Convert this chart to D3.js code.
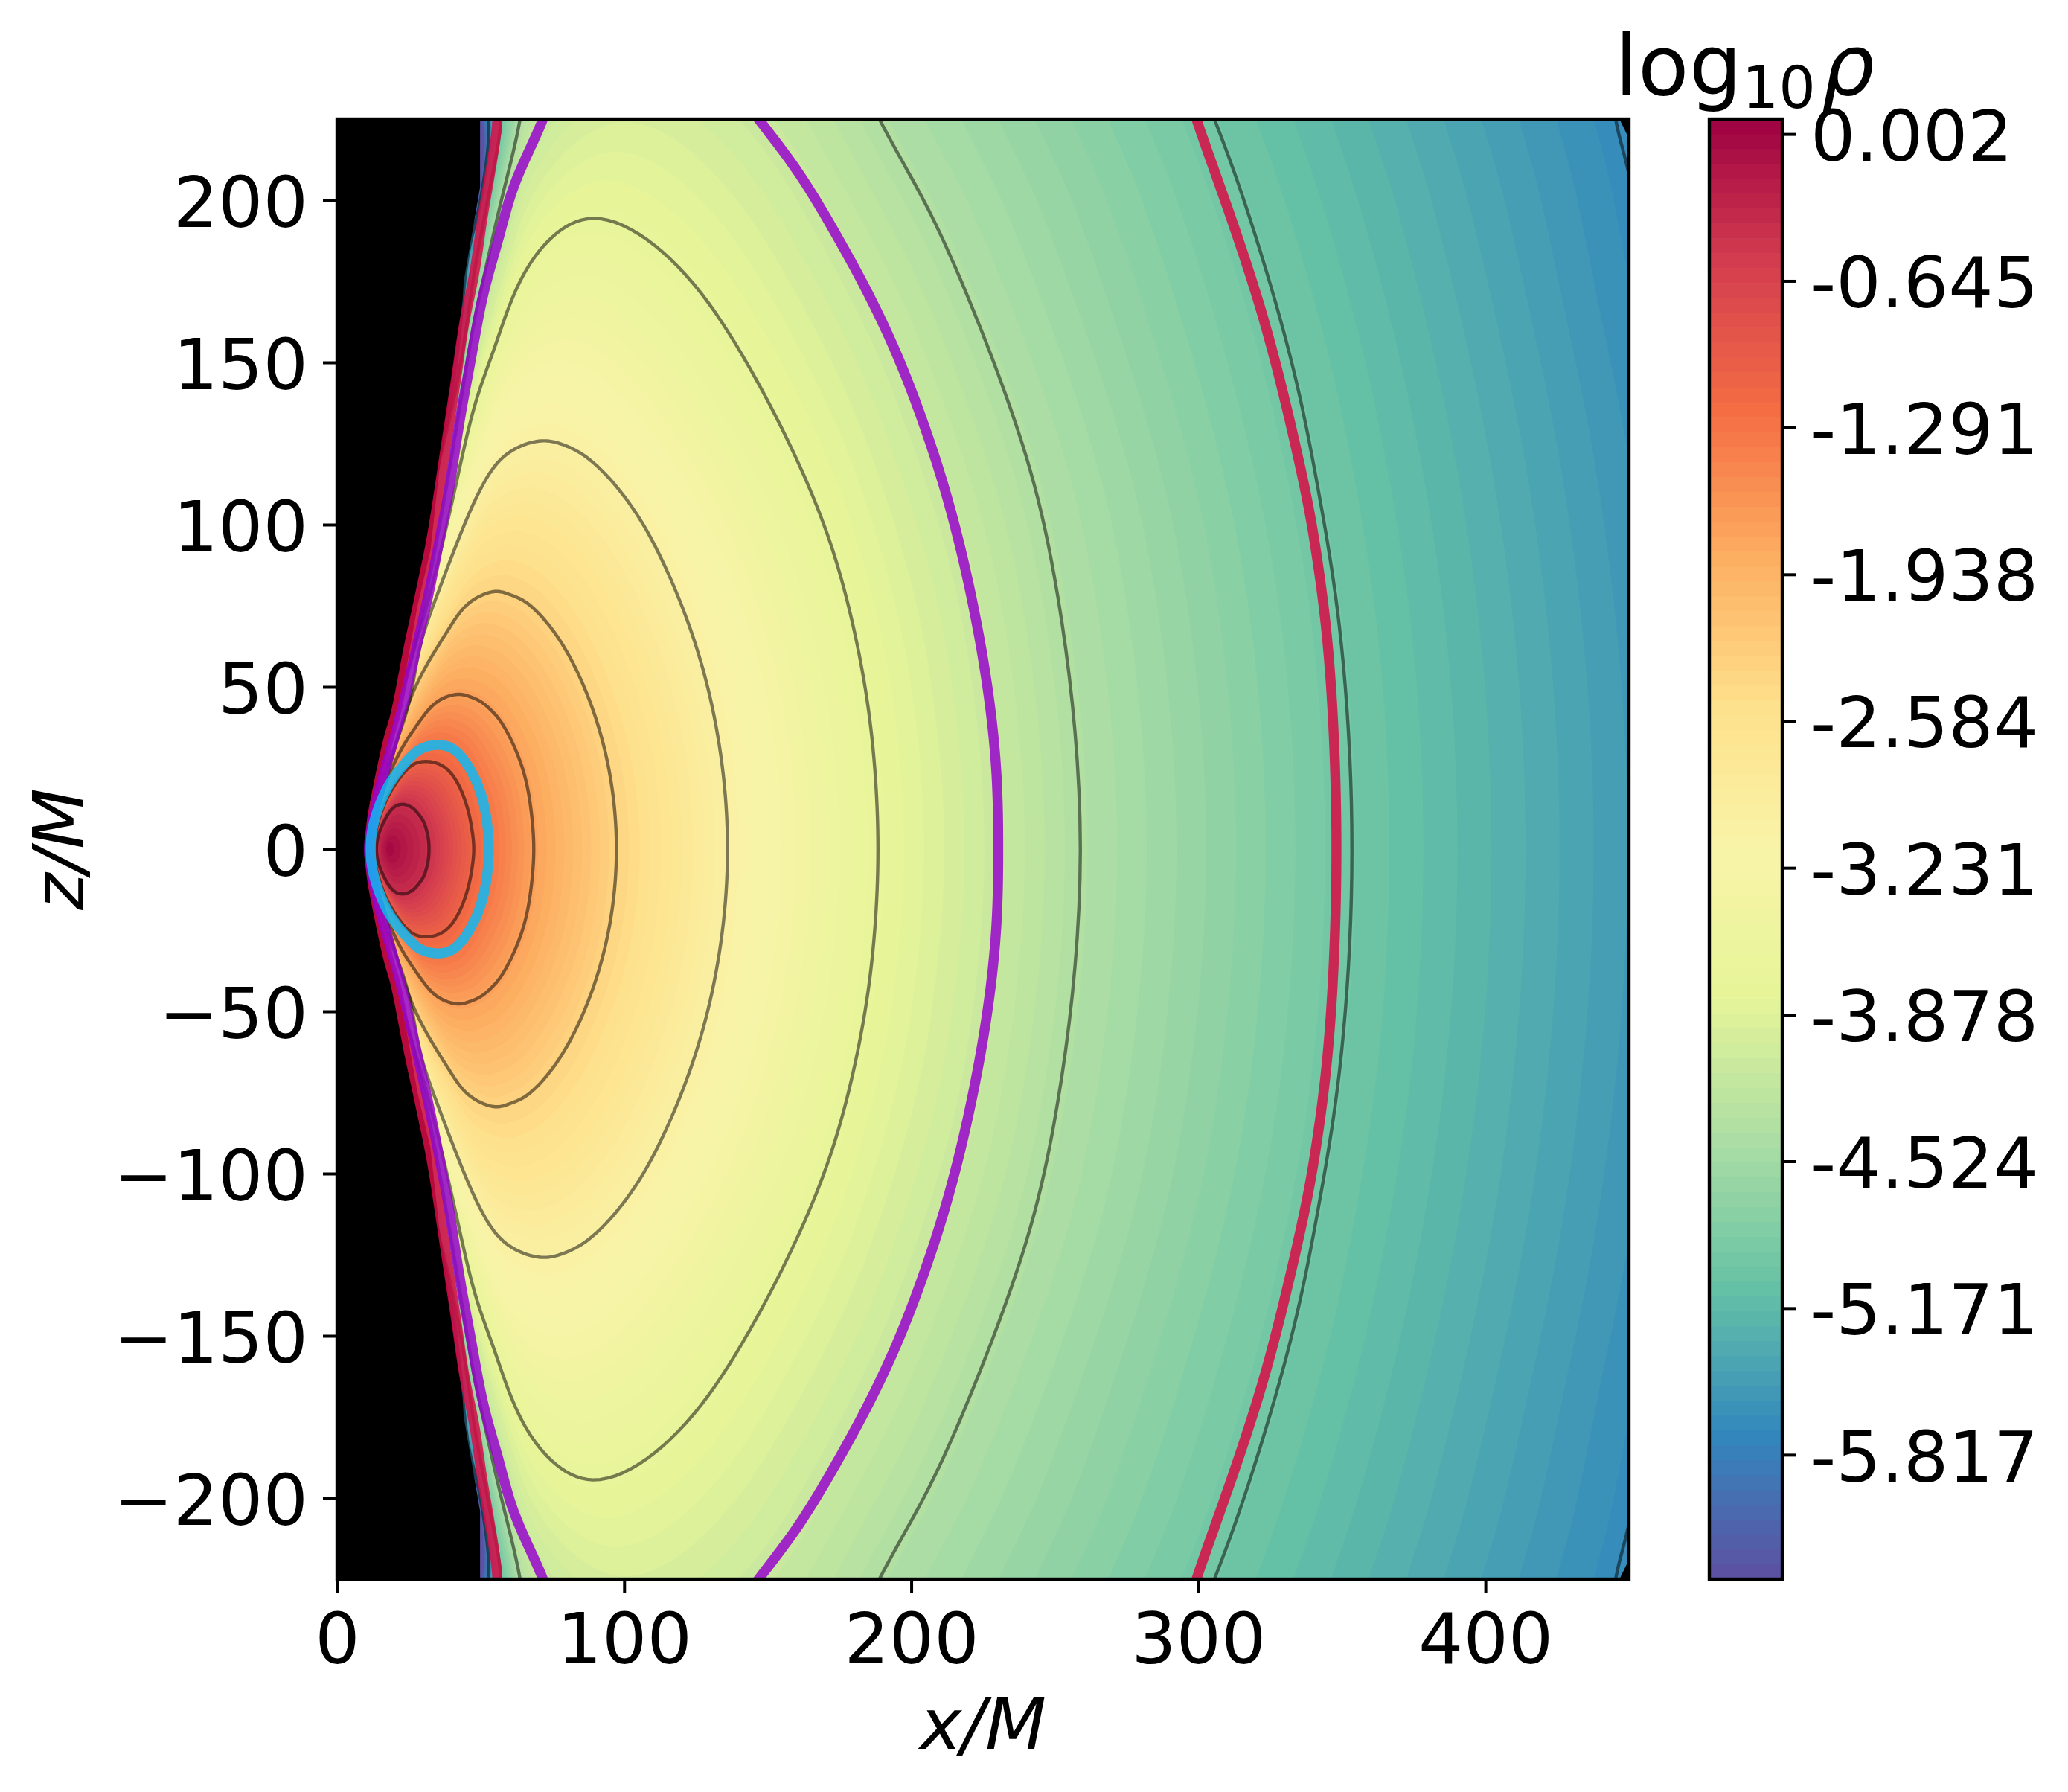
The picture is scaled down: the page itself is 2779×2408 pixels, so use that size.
<!DOCTYPE html>
<html>
<head>
<meta charset="utf-8">
<script src="https://cdn.jsdelivr.net/npm/d3@7"></script>
<style>
  body { margin: 0; background: #fff; }
  text { font-family: "DejaVu Sans"; fill: #000; }
</style>
</head>
<body>
<div id="chart"></div>
<script>
// ticks and labels
var xTicks = [0, 100, 200, 300, 400];
var zTicks = [-200, -150, -100, -50, 0, 50, 100, 150, 200];
var cbarValues = [0.002, -0.645, -1.291, -1.938, -2.584, -3.231, -3.878, -4.524, -5.171, -5.817];
var cbarLabels = ['0.002', '-0.645', '-1.291', '-1.938', '-2.584', '-3.231', '-3.878', '-4.524', '-5.171', '-5.817'];
var cbarRange = [-6.365, 0.068];
var bandCount = 98;
var spectral = ['#9e0142', '#d53e4f', '#f46d43', '#fdae61', '#fee08b', '#f9f4a8', '#e6f598', '#abdda4', '#66c2a5', '#3288bd', '#5e4fa2'];

// density contours, upper half only, [x, z]
// every contour has the same number of points: 0 is on the midplane to the right, 7 the top, 14 the midplane to the left
var contourLevels = [0.0, -0.42, -1.1, -1.74, -2.35, -3.03, -3.72, -4.38, -4.98, -5.68, -6.37];
var contourPeak = [17.8, 0];
var contourPaths = [
  [[32,0],[31.8,3],[31.1,6],[29.9,8.8],[28.2,10.9],[26.9,12.2],[25,13.3],[23,13.8],[20.5,13.3],[18.3,11.5],[16.6,9],[15.4,6.8],[14.5,4.6],[13.9,2.3],[13.7,0]],
  [[47.6,0],[47.3,4],[46.5,8.5],[45.6,12],[43.5,17.5],[40,23],[36,26],[31.2,27],[26,25.8],[21.3,21.3],[19.2,18.5],[17.4,15.6],[15.5,11.5],[13.6,6],[12.5,0]],
  [[68.5,0],[67.6,11.7],[64.4,25.4],[57.7,38.4],[54.1,42.4],[50.3,45.3],[46.2,47],[42,47.7],[34.7,45.3],[28.6,39.2],[23.4,32.3],[19,24.7],[16,17.5],[13,8],[11.5,0]],
  [[97.3,0],[95.5,20.4],[90.7,38.7],[83.9,54.2],[75.6,66.9],[65.9,76],[60,78.5],[55,79.4],[45.9,75.8],[39,68],[31.2,56.7],[25.1,45.3],[20,30.8],[14,12],[11.2,0]],
  [[136,0],[133.1,32.2],[125.6,61],[115.1,85.4],[102.5,105.7],[87.6,120.3],[78.5,124.7],[70.9,125.8],[58.8,121.5],[50,111],[42.5,96],[34.7,78],[28.6,61.3],[23.4,40],[11,0]],
  [[188.4,0],[186.7,30.8],[182.4,57.5],[174.6,86.5],[162.8,114.8],[141.3,152],[115.9,182],[89.1,194.4],[71.8,185.8],[61.4,170.5],[54.5,153.7],[48.5,138.4],[41.6,113.2],[27,62],[11,0]],
  [[258.9,0],[249.8,84.2],[236.8,130],[215.2,179.6],[202.3,203.3],[189.3,224.3],[168,257],[120,285],[72,250],[63.6,224.3],[57.1,199.5],[51,175.9],[46.7,157.5],[26.3,60],[11,0]],
  [[353.5,0],[349.1,68.9],[341.8,110.6],[331.9,152.2],[314.6,203.3],[305.9,224.3],[293,254],[190,380],[61,245],[57,224.3],[53.5,205],[50.5,191],[47.5,176],[38.5,130],[11,0]],
  [[480,0],[476,70],[466,135],[458,170],[449.6,209.5],[445.5,224.4],[436,260],[250,440],[54,245],[52.8,224.3],[51,205.7],[48.5,194],[45.4,182],[38,130],[11,0]],
  [[640,0],[640,100],[630,200],[610,300],[580,380],[540,450],[500,500],[450,560],[50.5,245],[50,224.3],[49.8,205],[46.5,190],[43.8,178],[37,130],[11,0]]
];
// which of the contours above get a thin dark line
var drawnContours = [0, 1, 2, 3, 4, 5, 6, 7, 8];

// the three thick curves, upper half
var cyanCurve = [[52.8,0],[51.6,11.7],[48.5,20.8],[43.3,28.5],[39,31.5],[34.2,32.1],[28.6,30.6],[23.4,26.2],[18.2,20],[14.3,12.4],[12.2,5.6],[11.7,0]];
var purpleCurve = [[230.3,0],[229.9,19.3],[228.2,38.4],[224.2,62.8],[217.6,91],[211.3,112],[205.3,128.5],[196.6,149],[185.4,170.5],[172.2,191.9],[159.5,210],[147.4,224.3],[136,238],[105,262],[78,238],[71.4,224.3],[65.8,213.2],[60.6,201.8],[56.2,188],[51,171.2],[46.7,151.4],[42.9,133],[39.2,112],[36.6,99.5],[33.2,84.3],[30.8,74.3],[27.8,62.8],[23,44.5],[18.8,30.8],[14.6,17.8],[12.2,7.9],[11.1,0]];
var redCurve = [[348.1,0],[347,38.4],[344.4,68.9],[341,91.8],[336.9,112],[326.2,152.2],[318.4,175.9],[309.7,198.8],[299.6,224.3],[294,240],[170,420],[58,240],[55.8,224.3],[52.8,205.7],[50.2,191.9],[47.6,176.6],[44.6,163.6],[42,148.4],[39.4,133],[36.8,117.8],[32.9,95.7],[30.3,84.3],[27.7,73.5],[25.1,62.8],[22.3,49.9],[19.9,40],[18.1,34.6],[14,18],[12,8],[11.5,0]];

// where the grid has no data, upper half
var funnelEdge = [[0,225],[49.8,225],[49.8,204],[44.1,175],[43.7,169],[39.4,140.7],[35.5,116],[32.5,92],[28,75],[24,55],[20.5,42],[16,25],[12,13],[10.5,4],[10.5,0]];
var cornerEdge = [[446.7,225],[450,225],[450,219]];

var width = 2779, height = 2408;
var plot = {left: 453, right: 2189, top: 160, bottom: 2122};
var cbar = {left: 2297, right: 2395};

var x = d3.scaleLinear().domain([0, 450]).range([plot.left, plot.right]);
var z = d3.scaleLinear().domain([-225, 225]).range([plot.bottom, plot.top]);
var cbarY = d3.scaleLinear().domain(cbarRange).range([plot.bottom, plot.top]);

var color = d3.scaleLinear()
    .domain(spectral.map((c, i) => cbarRange[1] - i * (cbarRange[1] - cbarRange[0]) / 10))
    .range(spectral);

var bandStep = (cbarRange[1] - cbarRange[0]) / bandCount;
var bandEdges = d3.range(bandCount).map(i => cbarRange[0] + i * bandStep);

var svg = d3.select('#chart').append('svg')
    .attr('width', width)
    .attr('height', height);

svg.append('clipPath').attr('id', 'plotClip')
  .append('rect')
    .attr('x', plot.left).attr('y', plot.top)
    .attr('width', plot.right - plot.left).attr('height', plot.bottom - plot.top);

var flip = p => [p[0], -p[1]];
var plainLine = d3.line().x(d => x(d[0])).y(d => z(d[1]));

// natural cubic through the values, t is the running parameter
function spline(t, v) {
  var n = t.length - 1, m = new Array(n + 1).fill(0), c = new Array(n + 1).fill(0), r = new Array(n + 1).fill(0);
  for (var i = 1; i < n; i++) {
    var h0 = t[i] - t[i - 1], h1 = t[i + 1] - t[i];
    var w = 2 * (h0 + h1) - h0 * c[i - 1];
    c[i] = h1 / w;
    r[i] = (6 * ((v[i + 1] - v[i]) / h1 - (v[i] - v[i - 1]) / h0) - h0 * r[i - 1]) / w;
  }
  for (i = n - 1; i > 0; i--) m[i] = r[i] - c[i] * m[i + 1];
  return (i0, s) => {
    var h = t[i0 + 1] - t[i0], a = 1 - s;
    return a * v[i0] + s * v[i0 + 1] + h * h / 6 * ((a * a * a - a) * m[i0] + (s * s * s - s) * m[i0 + 1]);
  };
}

// closes an upper half over the midplane and runs a smooth line through it
var perSegment = 10;
function smoothLoop(half) {
  var loop = half.concat(half.slice(1, -1).reverse().map(flip));
  var pad = 3, ext = loop.slice(-pad).concat(loop, loop.slice(0, pad + 1));
  var t = [0];
  for (var i = 1; i < ext.length; i++) {
    t.push(t[i - 1] + Math.sqrt(Math.hypot(ext[i][0] - ext[i - 1][0], ext[i][1] - ext[i - 1][1])));
  }
  var sx = spline(t, ext.map(p => p[0])), sz = spline(t, ext.map(p => p[1]));
  var out = [];
  for (i = pad; i < pad + loop.length; i++) {
    for (var k = 0; k < perSegment; k++) out.push([sx(i, k / perSegment), sz(i, k / perSegment)]);
  }
  return out;
}

var plotArea = svg.append('g').attr('clip-path', 'url(#plotClip)');

// one scale per point of the smoothed contours, level -> position, so any band edge can be asked for
var smoothPaths = contourPaths.map(smoothLoop);
var pointCount = smoothPaths[0].length;
var meshPaths = [d3.range(pointCount).map(() => contourPeak)].concat(smoothPaths);
var meshX = d3.range(pointCount).map(j => d3.scaleLinear().domain(contourLevels).range(meshPaths.map(p => p[j][0])).clamp(true));
var meshZ = d3.range(pointCount).map(j => d3.scaleLinear().domain(contourLevels).range(meshPaths.map(p => p[j][1])).clamp(true));
var bandPath = level => d3.range(pointCount).map(j => [meshX[j](level), meshZ[j](level)]);

plotArea.append('rect')
    .attr('x', plot.left).attr('y', plot.top)
    .attr('width', plot.right - plot.left).attr('height', plot.bottom - plot.top)
    .attr('fill', color(cbarRange[0] + bandStep / 2));

plotArea.selectAll('path.band')
    .data(bandEdges.slice(1).filter(d => d < contourLevels[0]))
    .enter().append('path')
    .attr('class', 'band')
    .attr('d', d => plainLine(bandPath(d)) + 'Z')
    .attr('fill', d => color(d + bandStep / 2));

// black where there is no data
var holes = [
  funnelEdge.concat(funnelEdge.slice().reverse().map(flip)),
  cornerEdge,
  cornerEdge.map(flip)
];
plotArea.selectAll('path.hole')
    .data(holes)
    .enter().append('path')
    .attr('class', 'hole')
    .attr('d', d => plainLine(d) + 'Z')
    .attr('fill', '#000');

plotArea.selectAll('path.level')
    .data(drawnContours)
    .enter().append('path')
    .attr('class', 'level')
    .attr('d', d => plainLine(smoothPaths[d]) + 'Z')
    .attr('fill', 'none')
    .attr('stroke', '#000')
    .attr('stroke-opacity', 0.5)
    .attr('stroke-width', 4.4);

plotArea.selectAll('path.thick')
    .data([
      {pts: redCurve, col: 'rgb(216,12,70)'},
      {pts: purpleCurve, col: 'rgb(150,5,205)'},
      {pts: cyanCurve, col: 'rgb(14,184,245)'}
    ])
    .enter().append('path')
    .attr('class', 'thick')
    .attr('d', d => plainLine(smoothLoop(d.pts)) + 'Z')
    .attr('fill', 'none')
    .attr('stroke', d => d.col)
    .attr('stroke-opacity', 0.85)
    .attr('stroke-width', 13.4);

// frame and axes
svg.append('rect')
    .attr('x', plot.left).attr('y', plot.top)
    .attr('width', plot.right - plot.left).attr('height', plot.bottom - plot.top)
    .attr('fill', 'none').attr('stroke', '#000').attr('stroke-width', 4.4);

var xAxis = svg.append('g')
    .attr('transform', 'translate(0,' + plot.bottom + ')')
    .call(d3.axisBottom(x).tickValues(xTicks).tickSize(19).tickPadding(27));
var zAxis = svg.append('g')
    .attr('transform', 'translate(' + plot.left + ',0)')
    .call(d3.axisLeft(z).tickValues(zTicks).tickSize(19).tickPadding(20));

[xAxis, zAxis].forEach(a => {
  a.select('.domain').remove();
  a.selectAll('line').attr('stroke', '#000').attr('stroke-width', 4);
  a.selectAll('text').attr('font-size', 95).attr('font-family', 'DejaVu Sans').attr('fill', '#000');
});
zAxis.selectAll('text').attr('dy', '0.37em');

svg.append('text')
    .attr('x', x(225)).attr('y', 2350)
    .attr('text-anchor', 'middle')
    .attr('font-size', 95).attr('font-style', 'italic')
    .text('x/M');
svg.append('text')
    .attr('transform', 'translate(112,' + z(0) + ') rotate(-90)')
    .attr('text-anchor', 'middle')
    .attr('font-size', 95).attr('font-style', 'italic')
    .text('z/M');

// colorbar
svg.selectAll('rect.cband')
    .data(bandEdges)
    .enter().append('rect')
    .attr('class', 'cband')
    .attr('x', cbar.left).attr('width', cbar.right - cbar.left)
    .attr('y', d => cbarY(d + bandStep))
    .attr('height', d => cbarY(d) - cbarY(d + bandStep) + 0.6)
    .attr('fill', d => color(d + bandStep / 2));
svg.append('rect')
    .attr('x', cbar.left).attr('y', plot.top)
    .attr('width', cbar.right - cbar.left).attr('height', plot.bottom - plot.top)
    .attr('fill', 'none').attr('stroke', '#000').attr('stroke-width', 4.4);

var cAxis = svg.append('g')
    .attr('transform', 'translate(' + cbar.right + ',0)')
    .call(d3.axisRight(cbarY).tickValues(cbarValues).tickSize(19).tickPadding(19)
      .tickFormat((d, i) => cbarLabels[i]));
cAxis.select('.domain').remove();
cAxis.selectAll('line').attr('stroke', '#000').attr('stroke-width', 4);
cAxis.selectAll('text').attr('font-size', 95).attr('font-family', 'DejaVu Sans').attr('fill', '#000').attr('dy', '0.37em');

var cbarTitle = svg.append('text').attr('x', 2170).attr('y', 127).attr('font-size', 112);
cbarTitle.append('tspan').text('log');
cbarTitle.append('tspan').attr('dy', 18).attr('font-size', 78).text('10');
cbarTitle.append('tspan').attr('dy', -18).attr('dx', 8).attr('font-style', 'italic').text('ρ');
</script>
</body>
</html>
